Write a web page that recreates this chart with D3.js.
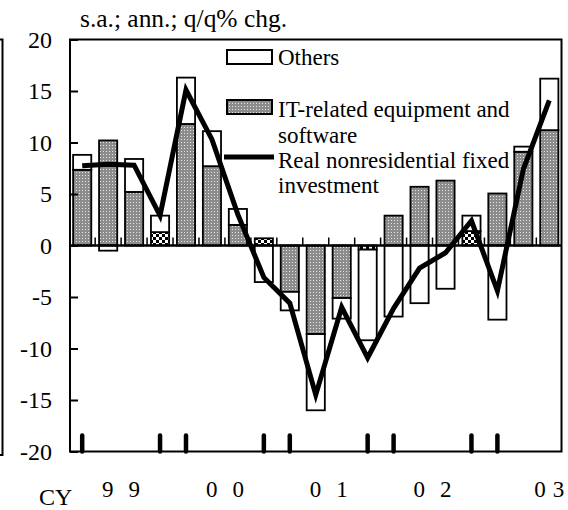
<!DOCTYPE html>
<html>
<head>
<meta charset="utf-8">
<script src="https://cdn.jsdelivr.net/npm/d3@7"></script>
<style>
  body { margin: 0; background: #fff; }
  svg text { font-family: "Liberation Serif", "Times New Roman", serif; fill: #000; }
</style>
</head>
<body>
<div id="chart"></div>
<script>
/**
 * DATA
 * */
const quarters = [
  "99Q1", "99Q2", "99Q3", "99Q4",
  "00Q1", "00Q2", "00Q3", "00Q4",
  "01Q1", "01Q2", "01Q3", "01Q4",
  "02Q1", "02Q2", "02Q3", "02Q4",
  "03Q1", "03Q2", "03Q3"
];
// contribution of IT-related equipment and software
const itValues = [7.35, 10.2, 5.2, 1.3, 11.8, 7.7, 2.0, 0.7, -4.5, -8.6, -5.1, -0.4, 2.9, 5.7, 6.3, 1.4, 5.05, 9.1, 11.2];
// contribution of others
const otherValues = [1.45, -0.5, 3.2, 1.6, 4.5, 3.4, 1.55, -3.55, -1.8, -7.4, -2.0, -8.8, -6.9, -5.6, -4.2, 1.5, -7.2, 0.5, 5.0];
// real nonresidential fixed investment
const totalValues = [7.75, 7.9, 7.8, 2.9, 15.1, 10.3, 3.0, -3.1, -5.6, -14.5, -6.0, -10.9, -6.1, -2.2, -0.7, 2.4, -4.4, 7.4, 14.1];

const yTicks = [20, 15, 10, 5, 0, -5, -10, -15, -20];
const yearLabels = ["9 9", "0 0", "0 1", "0 2", "0 3"];
const yearLabelAt = [1.5, 5.5, 9.5, 13.5, 18]; // position in quarter index

const legendItems = ["Others", "IT-related equipment and software", "Real nonresidential fixed investment"];

/**
 * CONSTANTS
 * */
const width = 568, height = 510;
const margin = { top: 39.5, right: 6.5, bottom: 58.5, left: 70 };

const svg = d3.select("#chart").append("svg")
  .attr("width", width)
  .attr("height", height);

const x = d3.scaleBand()
  .domain(quarters)
  .range([margin.left, width - margin.right])
  .paddingInner(0.3)
  .paddingOuter(0.12);

const y = d3.scaleLinear()
  .domain([-20, 20])
  .range([height - margin.bottom, margin.top]);

// patterns for IT bars
const defs = svg.append("defs");
const pat = defs.append("pattern")
  .attr("id", "itPat")
  .attr("patternUnits", "userSpaceOnUse")
  .attr("width", 3).attr("height", 3);
pat.append("rect").attr("width", 3).attr("height", 3).attr("fill", "#8c8c8c");
pat.append("rect").attr("x", 1).attr("y", 1).attr("width", 1).attr("height", 1).attr("fill", "#e6e6e6");

// small slivers come out as a coarse checker in the original
const pat2 = defs.append("pattern")
  .attr("id", "itPatSmall")
  .attr("patternUnits", "userSpaceOnUse")
  .attr("width", 6).attr("height", 6);
pat2.append("rect").attr("width", 6).attr("height", 6).attr("fill", "#fff");
pat2.append("rect").attr("width", 3).attr("height", 3).attr("fill", "#000");
pat2.append("rect").attr("x", 3).attr("y", 3).attr("width", 3).attr("height", 3).attr("fill", "#000");

// stacked data (diverging)
const rows = quarters.map((q, i) => ({ q, it: itValues[i], others: otherValues[i] }));
const series = d3.stack()
  .keys(["it", "others"])
  .offset(d3.stackOffsetDiverging)(rows);

// title
svg.append("text")
  .attr("x", 80).attr("y", 27)
  .attr("textLength", 207)
  .attr("lengthAdjust", "spacingAndGlyphs")
  .style("font-size", "25px")
  .text("s.a.; ann.; q/q% chg.");

// cropped neighbouring panel edge
svg.append("path")
  .attr("d", `M0,${margin.top} H2.5 V455 H0`)
  .attr("fill", "none").attr("stroke", "#000").attr("stroke-width", 2);

// bars
const barFill = d => {
  if (d.key === "others") return "#fff";
  return Math.abs(d.v) < 1.5 ? "url(#itPatSmall)" : "url(#itPat)";
};
svg.append("g").selectAll("g")
  .data(series)
  .join("g")
  .selectAll("rect")
  .data(s => s.map(d => Object.assign(d, { key: s.key, v: d.data[s.key] })))
  .join("rect")
  .attr("x", d => x(d.data.q))
  .attr("width", x.bandwidth())
  .attr("y", d => y(Math.max(d[0], d[1])))
  .attr("height", d => Math.abs(y(d[0]) - y(d[1])))
  .attr("fill", barFill)
  .attr("stroke", "#000")
  .attr("stroke-width", 1.8);

// zero line
svg.append("line")
  .attr("x1", margin.left).attr("x2", width - margin.right)
  .attr("y1", y(0)).attr("y2", y(0))
  .attr("stroke", "#000").attr("stroke-width", 2.5);

// small ticks between bars on zero line
const step = x.step();
svg.append("g").selectAll("line")
  .data(quarters.slice(1))
  .join("line")
  .attr("x1", d => x(d) - step * 0.15)
  .attr("x2", d => x(d) - step * 0.15)
  .attr("y1", y(0)).attr("y2", y(0) - 8)
  .attr("stroke", "#000").attr("stroke-width", 1.5);

// frame
svg.append("rect")
  .attr("x", margin.left).attr("y", margin.top)
  .attr("width", width - margin.right - margin.left)
  .attr("height", height - margin.bottom - margin.top)
  .attr("fill", "none").attr("stroke", "#000").attr("stroke-width", 2);

// y axis
const yAxis = svg.append("g")
  .attr("transform", `translate(${margin.left},0)`)
  .call(d3.axisRight(y).tickValues(yTicks).tickSize(8).tickFormat(""));
yAxis.select(".domain").remove();
yAxis.selectAll("line").attr("stroke-width", 2);

svg.append("g").selectAll("text")
  .data(yTicks)
  .join("text")
  .attr("x", 52)
  .attr("y", d => y(d))
  .attr("dy", "0.35em")
  .attr("text-anchor", "end")
  .style("font-size", "24px")
  .text(d => d);

// tall ticks at bottom (Q1 and Q4)
svg.append("g").selectAll("line")
  .data(quarters.filter(q => q.endsWith("Q1") || q.endsWith("Q4")))
  .join("line")
  .attr("x1", d => x(d) + x.bandwidth() / 2)
  .attr("x2", d => x(d) + x.bandwidth() / 2)
  .attr("y1", y(-20)).attr("y2", y(-20) - 16)
  .attr("stroke", "#000").attr("stroke-width", 4.5)
  .attr("stroke-linecap", "round");

// year labels
const qCenter = i => x(quarters[0]) + x.bandwidth() / 2 + i * step;
svg.append("g").selectAll("text")
  .data(yearLabels)
  .join("text")
  .attr("x", (d, i) => qCenter(yearLabelAt[i]))
  .attr("y", 497)
  .attr("text-anchor", "middle")
  .attr("textLength", (d, i) => i === yearLabels.length - 1 ? 30 : 38)
  .attr("lengthAdjust", "spacing")
  .style("font-size", "23px")
  .text(d => d);

svg.append("text")
  .attr("x", 39).attr("y", 505)
  .style("font-size", "24px")
  .text("CY");

// line
const line = d3.line()
  .x((d, i) => x(quarters[i]) + x.bandwidth() / 2)
  .y(d => y(d));
svg.append("path")
  .datum(totalValues)
  .attr("d", line)
  .attr("fill", "none")
  .attr("stroke", "#000")
  .attr("stroke-width", 5);

// legend
const lg = svg.append("g");
lg.append("rect").attr("x", 227).attr("y", 50).attr("width", 45).attr("height", 14)
  .attr("fill", "#fff").attr("stroke", "#000").attr("stroke-width", 2);
lg.append("rect").attr("x", 227).attr("y", 100).attr("width", 45).attr("height", 14)
  .attr("fill", "url(#itPat)").attr("stroke", "#000").attr("stroke-width", 2);
lg.append("line").attr("x1", 224).attr("x2", 274).attr("y1", 157).attr("y2", 157)
  .attr("stroke", "#000").attr("stroke-width", 5);

const legendLines = [
  { t: legendItems[0], y: 65 },
  { t: "IT-related equipment and", y: 117 },
  { t: "software", y: 143 },
  { t: "Real nonresidential fixed", y: 168 },
  { t: "investment", y: 193 }
];
lg.selectAll("text.lg")
  .data(legendLines)
  .join("text")
  .attr("class", "lg")
  .attr("x", 278)
  .attr("y", d => d.y)
  .style("font-size", "23px")
  .text(d => d.t);
</script>
</body>
</html>
